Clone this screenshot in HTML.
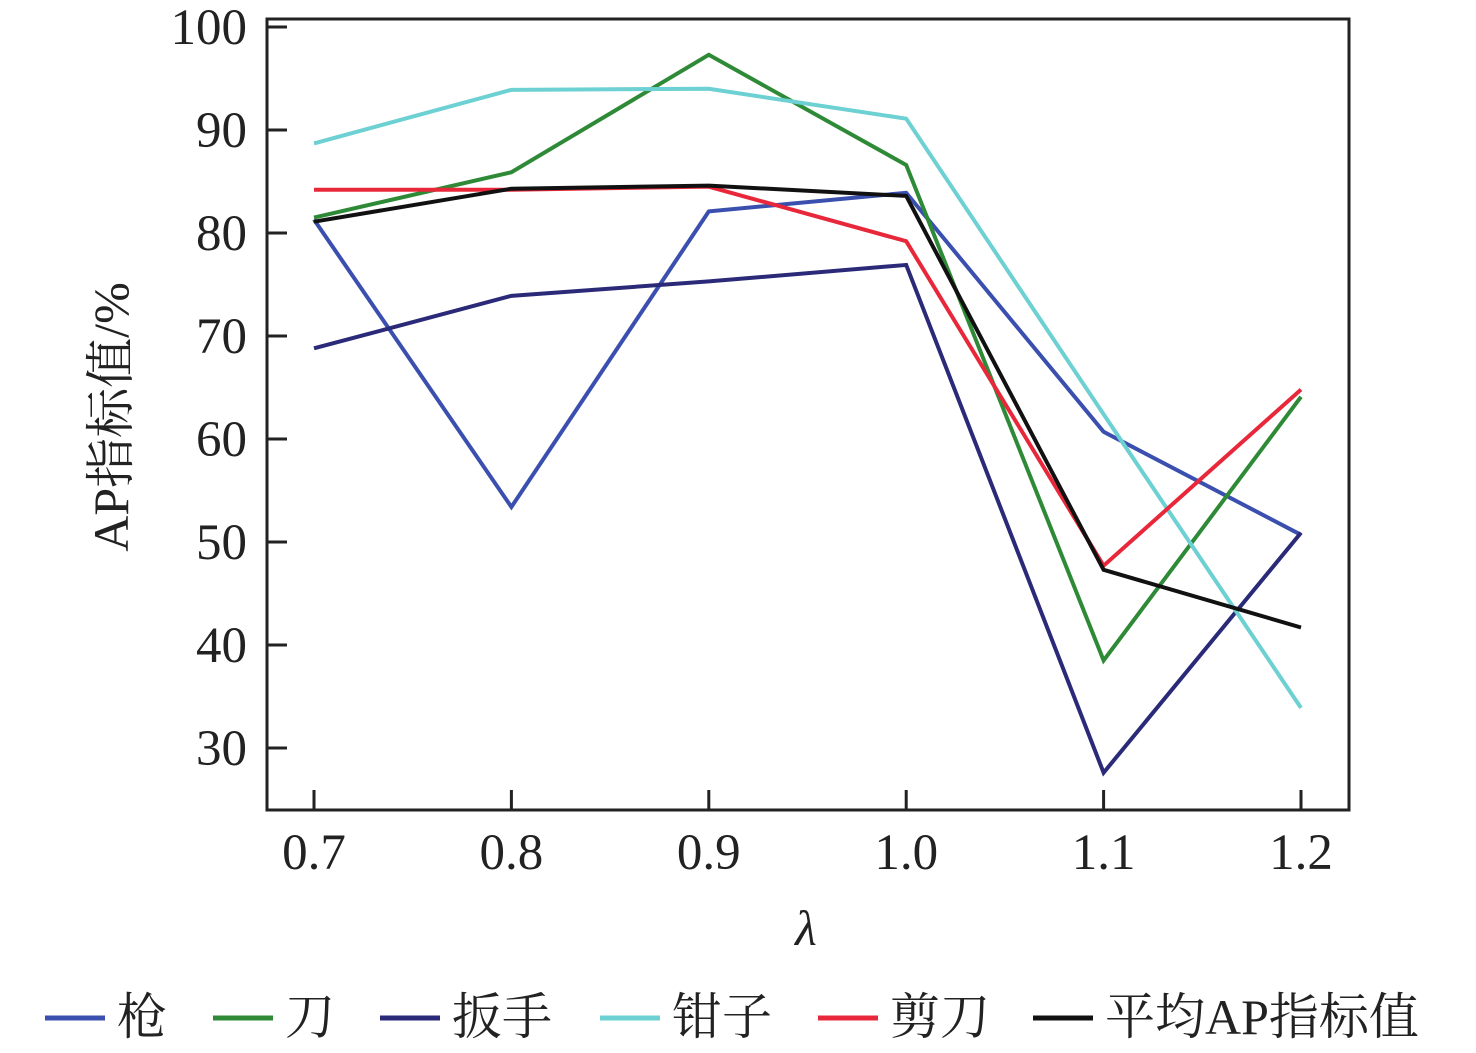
<!DOCTYPE html>
<html><head><meta charset="utf-8"><style>
body{margin:0;background:#fff;width:1476px;height:1048px;overflow:hidden}
svg text{font-family:"Liberation Serif","Noto Serif CJK SC",serif}
</style></head><body>
<svg id="chart" width="1476" height="1048" xmlns="http://www.w3.org/2000/svg"></svg>
<script>
const categories=["0.7","0.8","0.9","1.0","1.1","1.2"];
const yTicks=[30,40,50,60,70,80,90,100];
const seriesNames=["枪","刀","扳手","钳子","剪刀","平均AP指标值"];
const gun=[81.3,53.4,82.1,83.9,60.7,50.7];
const knife=[81.5,85.9,97.3,86.6,38.5,64.1];
const wrench=[68.8,73.9,75.3,76.9,27.6,50.9];
const pliers=[88.7,93.9,94.0,91.1,62.4,33.9];
const scissors=[84.2,84.2,84.5,79.2,47.7,64.8];
const average=[81.1,84.3,84.6,83.6,47.3,41.7];
const seriesData=[gun,knife,wrench,pliers,scissors,average];
const colors=["#3a4fae","#2e8a37","#2b2a78","#6dd0d2","#e8283a","#111111"];
const keys=["gun","knife","wrench","pliers","scissors","average"];
const NS="http://www.w3.org/2000/svg";
const svg=document.getElementById("chart");
const L=267,R=1349,T=19,B=810;
const xS=i=>314+i*197.4;
const yS=v=>748-(v-30)*10.3;
function mk(t,a,p){const e=document.createElementNS(NS,t);for(const k in a)e.setAttribute(k,a[k]);(p||svg).appendChild(e);return e;}
const frame=mk("rect",{x:L,y:T,width:R-L,height:B-T,fill:"none",stroke:"#222","stroke-width":3});


yTicks.forEach(v=>{
 const t=mk("line",{x1:L,x2:L+20,y1:yS(v),y2:yS(v),stroke:"#222","stroke-width":3});
 
 
 const lb=mk("text",{x:247,y:yS(v)+17,"text-anchor":"end","font-size":51,fill:"#222"});
 lb.textContent=v;
 
 
});
categories.forEach((c,i)=>{
 const t=mk("line",{x1:xS(i),x2:xS(i),y1:B,y2:B-20,stroke:"#222","stroke-width":3});
 
 
 const lb=mk("text",{x:xS(i),y:869,"text-anchor":"middle","font-size":51,fill:"#222"});
 lb.textContent=c;
 
 
});
const xt=mk("text",{x:806,y:945,"text-anchor":"middle","font-size":50,"font-style":"italic",fill:"#222"});
xt.textContent="λ";


const yt=mk("text",{x:0,y:0,"text-anchor":"middle","font-size":50,fill:"#222",transform:"translate(128,417) rotate(-90)"});
yt.textContent="AP指标值/%";


seriesData.forEach((d,s)=>{
 const pts=d.map((v,i)=>xS(i)+","+yS(v)).join(" ");
 const pl=mk("polyline",{points:pts,fill:"none",stroke:colors[s],"stroke-width":4,"stroke-linejoin":"miter"});
 
 
});
const lx=[45,213,380,600,818,1033];
seriesNames.forEach((n,s)=>{
 const g=mk("g",{});
 
 
 mk("line",{x1:lx[s],x2:lx[s]+60,y1:1018,y2:1018,stroke:colors[s],"stroke-width":5},g);
 const t=mk("text",{x:lx[s]+72,y:1034,"font-size":50,fill:"#222"},g);
 t.textContent=n;
});
</script>
</body></html>
